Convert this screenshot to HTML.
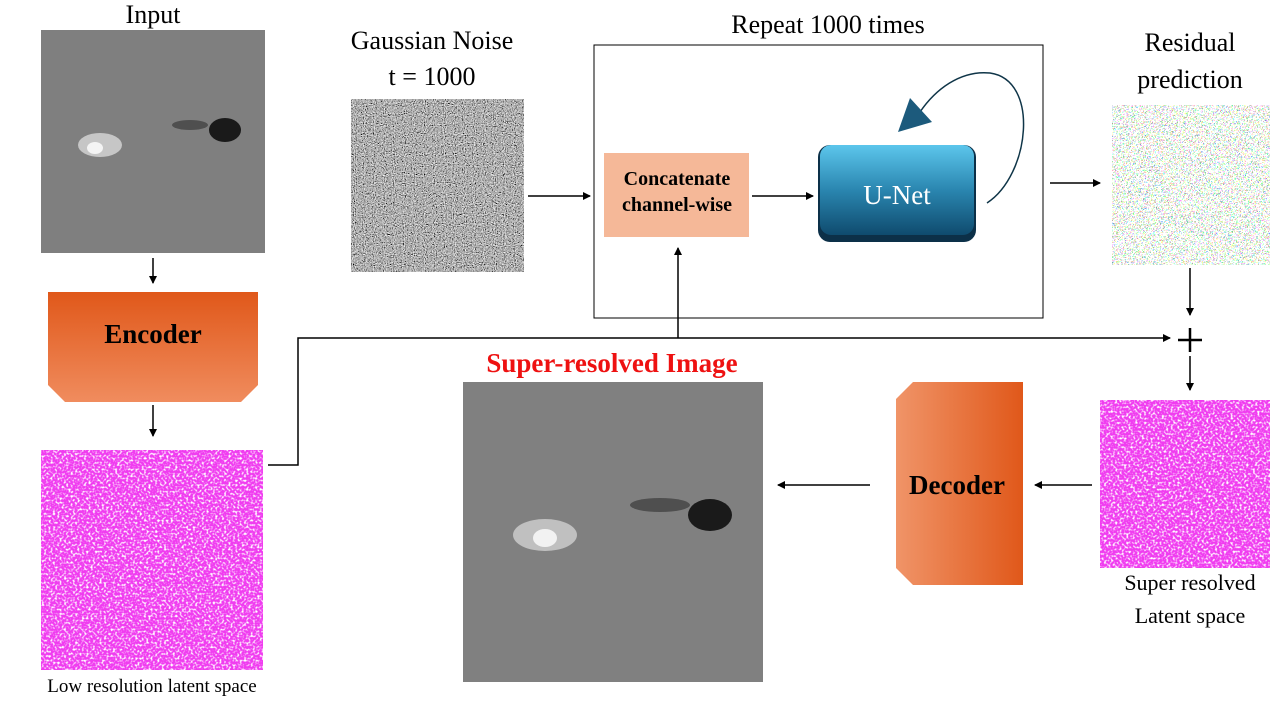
<!DOCTYPE html>
<html><head><meta charset="utf-8">
<style>
html,body{margin:0;padding:0;background:#fff;width:1280px;height:720px;overflow:hidden;}
.t{position:absolute;font-family:"Liberation Serif",serif;color:#000;white-space:nowrap;transform:translateX(-50%);}
</style></head>
<body>
<svg width="1280" height="720" style="position:absolute;left:0;top:0">
<defs>
<filter id="gnoise" x="0" y="0" width="100%" height="100%">
<feTurbulence type="fractalNoise" baseFrequency="0.9" numOctaves="1" seed="3"/>
<feColorMatrix type="matrix" values="0.33 0.33 0.33 0 0  0.33 0.33 0.33 0 0  0.33 0.33 0.33 0 0  0 0 0 0 1"/>
<feComponentTransfer><feFuncR type="linear" slope="3.2" intercept="-1.15"/><feFuncG type="linear" slope="3.2" intercept="-1.15"/><feFuncB type="linear" slope="3.2" intercept="-1.15"/></feComponentTransfer>
</filter>
<filter id="wnoise" x="0" y="0" width="100%" height="100%">
<feTurbulence type="fractalNoise" baseFrequency="0.45" numOctaves="1" seed="7"/>
<feColorMatrix type="matrix" values="0 0 0 0 1  0 0 0 0 1  0 0 0 0 1  4 0 0 0 -1.9"/>
</filter>
<filter id="cnoise" x="0" y="0" width="100%" height="100%">
<feTurbulence type="fractalNoise" baseFrequency="0.6" numOctaves="1" seed="11"/>
<feComponentTransfer><feFuncR type="discrete" tableValues="1 1 1 1 1 0.2 1 1 1 1"/><feFuncG type="discrete" tableValues="1 1 1 0.3 1 1 0.3 1 1 1"/><feFuncB type="discrete" tableValues="1 1 1 1 1 0.3 0.6 1 1 1"/><feFuncA type="discrete" tableValues="0 0 0 0 0 1 1 0 0 0"/></feComponentTransfer>
</filter>
<linearGradient id="enc" x1="0" y1="0" x2="0" y2="1"><stop offset="0" stop-color="#e0581a"/><stop offset="1" stop-color="#f08c5e"/></linearGradient>
<linearGradient id="dec" x1="0" y1="0" x2="1" y2="0"><stop offset="0" stop-color="#f09468"/><stop offset="1" stop-color="#e0581a"/></linearGradient>
<linearGradient id="unet" x1="0" y1="0" x2="0" y2="1"><stop offset="0" stop-color="#5cc6ec"/><stop offset="0.5" stop-color="#2a86b0"/><stop offset="1" stop-color="#0f4b6e"/></linearGradient>
<marker id="ah" markerWidth="8" markerHeight="8" refX="7" refY="4" orient="auto" markerUnits="userSpaceOnUse"><path d="M0,0 L8,4 L0,8 z" fill="#000"/></marker>
</defs>

<g>
<rect x="41" y="30" width="224" height="223" fill="#7f7f7f"/>
<ellipse cx="100" cy="145" rx="22" ry="12" fill="#d8d8d8" opacity="0.8"/>
<ellipse cx="95" cy="148" rx="8" ry="6" fill="#f4f4f4"/>
<ellipse cx="225" cy="130" rx="16" ry="12" fill="#1a1a1a"/>
<ellipse cx="190" cy="125" rx="18" ry="5" fill="#3a3a3a" opacity="0.7"/>
</g>
<line x1="153" y1="258" x2="153" y2="283" stroke="#000" stroke-width="1.5" marker-end="url(#ah)"/>
<path d="M48,292 H258 V385 L241,402 H65 L48,385 Z" fill="url(#enc)"/>
<line x1="153" y1="405" x2="153" y2="436" stroke="#000" stroke-width="1.5" marker-end="url(#ah)"/>

<g>
<rect x="41" y="450" width="222" height="220" fill="#f03cf0"/>
<rect x="41" y="450" width="222" height="220" filter="url(#wnoise)"/>
</g>
<polyline points="268,465 298,465 298,338 1170,338" fill="none" stroke="#000" stroke-width="1.5" marker-end="url(#ah)"/>

<rect x="351" y="99" width="173" height="173" filter="url(#gnoise)"/>
<line x1="528" y1="196" x2="590" y2="196" stroke="#000" stroke-width="1.5" marker-end="url(#ah)"/>

<rect x="594" y="45" width="449" height="273" fill="none" stroke="#000" stroke-width="1"/>
<rect x="604" y="153" width="145" height="84" fill="#f5b898"/>
<line x1="752" y1="196" x2="813" y2="196" stroke="#000" stroke-width="1.5" marker-end="url(#ah)"/>
<rect x="818" y="145" width="158" height="97" rx="12" fill="#0c3048"/>
<rect x="820" y="145" width="154" height="90" rx="11" fill="url(#unet)"/>
<path d="M987,203 C1030,175 1040,80 990,73 C960,70 935,90 920,112" fill="none" stroke="#0f3548" stroke-width="1.5"/>
<path d="M898,132 L910,98 L932,122 Z" fill="#1c5a7c"/>
<line x1="678" y1="338" x2="678" y2="248" stroke="#000" stroke-width="1.5" marker-end="url(#ah)"/>
<line x1="1050" y1="183" x2="1100" y2="183" stroke="#000" stroke-width="1.5" marker-end="url(#ah)"/>

<g>
<rect x="1112" y="105" width="158" height="160" fill="#fff"/>
<rect x="1112" y="105" width="158" height="160" filter="url(#cnoise)"/>
</g>
<line x1="1190" y1="268" x2="1190" y2="315" stroke="#000" stroke-width="1.5" marker-end="url(#ah)"/>
<line x1="1178" y1="340" x2="1202" y2="340" stroke="#000" stroke-width="2.5"/>
<line x1="1190" y1="328" x2="1190" y2="352" stroke="#000" stroke-width="2.5"/>
<line x1="1190" y1="356" x2="1190" y2="390" stroke="#000" stroke-width="1.5" marker-end="url(#ah)"/>

<g>
<rect x="1100" y="400" width="170" height="168" fill="#f03cf0"/>
<rect x="1100" y="400" width="170" height="168" filter="url(#wnoise)"/>
</g>
<line x1="1092" y1="485" x2="1035" y2="485" stroke="#000" stroke-width="1.5" marker-end="url(#ah)"/>
<path d="M913,382 H1023 V585 H913 L896,568 V399 Z" fill="url(#dec)"/>
<line x1="870" y1="485" x2="778" y2="485" stroke="#000" stroke-width="1.5" marker-end="url(#ah)"/>

<g>
<rect x="463" y="382" width="300" height="300" fill="#808080"/>
<ellipse cx="545" cy="535" rx="32" ry="16" fill="#d0d0d0" opacity="0.8"/>
<ellipse cx="545" cy="538" rx="12" ry="9" fill="#f2f2f2"/>
<ellipse cx="710" cy="515" rx="22" ry="16" fill="#1a1a1a"/>
<ellipse cx="660" cy="505" rx="30" ry="7" fill="#3a3a3a" opacity="0.7"/>
</g>
</svg>

<div class="t" style="left:153px;top:0px;font-size:26px">Input</div>
<div class="t" style="left:153px;top:319px;font-size:27px;font-weight:bold">Encoder</div>
<div class="t" style="left:152px;top:676px;font-size:19px">Low resolution latent space</div>
<div class="t" style="left:432px;top:26px;font-size:26px">Gaussian Noise</div>
<div class="t" style="left:432px;top:62px;font-size:26px">t = 1000</div>
<div class="t" style="left:828px;top:10px;font-size:26px">Repeat 1000 times</div>
<div class="t" style="left:677px;top:166px;font-size:20px;font-weight:bold;text-align:center;line-height:26px">Concatenate<br>channel-wise</div>
<div class="t" style="left:897px;top:180px;font-size:27px;color:#fff">U-Net</div>
<div class="t" style="left:1190px;top:28px;font-size:26px">Residual</div>
<div class="t" style="left:1190px;top:65px;font-size:26px">prediction</div>
<div class="t" style="left:1190px;top:570px;font-size:22px">Super resolved</div>
<div class="t" style="left:1190px;top:603px;font-size:22px">Latent space</div>
<div class="t" style="left:957px;top:470px;font-size:27px;font-weight:bold">Decoder</div>
<div class="t" style="left:612px;top:348px;font-size:27px;font-weight:bold;color:#ee1111">Super-resolved Image</div>
</body></html>
